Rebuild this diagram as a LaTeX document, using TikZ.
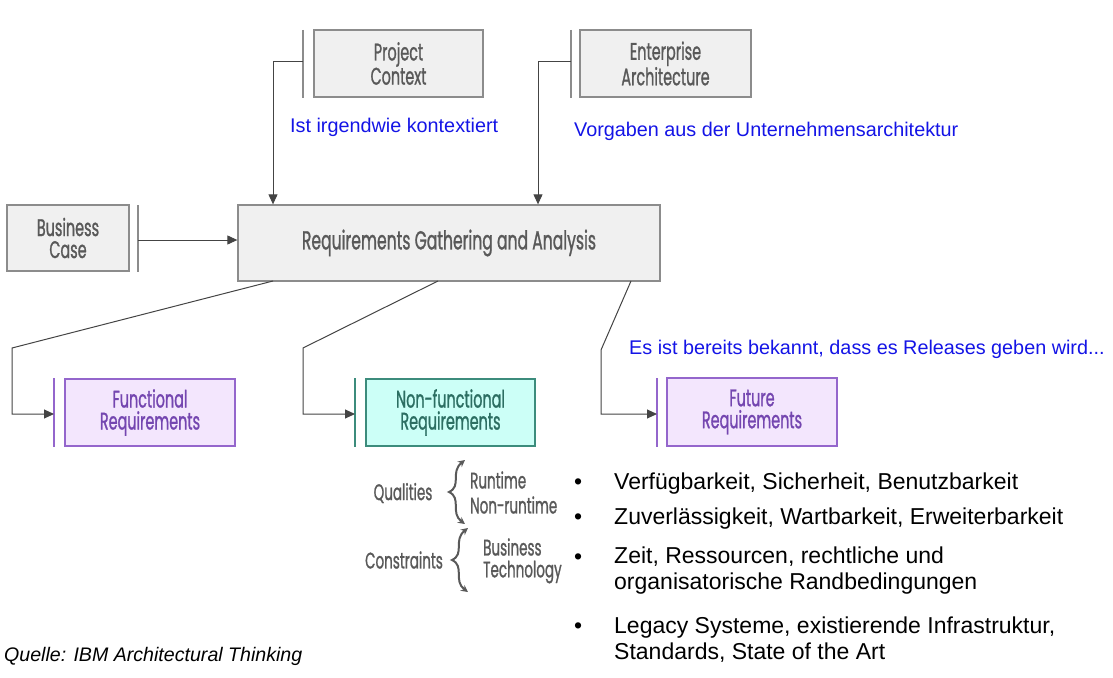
\documentclass[tikz,border=0pt]{standalone}
\usepackage{fontspec}
\setmainfont{Liberation Sans}
\newfontfamily\condfont[FakeStretch=0.6,FakeBold=1]{Poppins}
\usetikzlibrary{arrows.meta}
\definecolor{boxgray}{HTML}{F0F0F0}
\definecolor{edgegray}{HTML}{8C8C8C}
\definecolor{txtgray}{HTML}{595959}
\definecolor{linegray}{HTML}{444444}
\definecolor{purfill}{HTML}{F3E6FD}
\definecolor{puredge}{HTML}{9466CC}
\definecolor{purtxt}{HTML}{7446B0}
\definecolor{tealfill}{HTML}{CCFFF7}
\definecolor{tealedge}{HTML}{3C8C7C}
\definecolor{tealtxt}{HTML}{2C6E62}
\definecolor{bluetxt}{HTML}{1414E6}
\tikzset{
  x=1pt, y=-1pt,
  gbox/.style={draw=edgegray, fill=boxgray, line width=1.3pt, inner sep=0pt, align=center,
    text=txtgray, font=\condfont\fontsize{24}{22}\selectfont},
  pbox/.style={gbox, draw=puredge, fill=purfill, text=purtxt},
  tbox/.style={gbox, draw=tealedge, fill=tealfill, text=tealtxt},
  gbar/.style={draw=edgegray, line width=1.8pt},
  pbar/.style={draw=puredge, line width=1.5pt},
  tbar/.style={draw=tealedge, line width=1.5pt},
  conn/.style={draw=linegray, line width=1pt},
  arr/.style={conn, -{Triangle[length=10pt,width=9pt]}},
  blue/.style={text=bluetxt, font=\fontsize{19.8}{22}\selectfont, inner sep=0pt},
  glabel/.style={text=txtgray, font=\condfont\fontsize{22.5}{22}\selectfont, inner sep=0pt},
  bul/.style={font=\fontsize{23}{26}\selectfont, inner sep=0pt, anchor=west, align=left},
  curl/.style={draw=txtgray, line width=2pt, {Stealth[length=7pt,width=7pt]}-{Stealth[length=7pt,width=7pt]}},
}
\begin{document}
\begin{tikzpicture}
\useasboundingbox (0,0) rectangle (1113,677);
% top boxes
\node[gbox, minimum width=169pt, minimum height=67pt] (pc) at (398.5,63.5) {Project\\Context};
\node[gbox, minimum width=171pt, minimum height=67pt] (ea) at (665.5,63.5) {Enterprise\\Architecture};
\node[gbox, minimum width=122pt, minimum height=66pt] (bc) at (68,238) {Business\\Case};
\node[gbox, minimum width=422pt, minimum height=76pt, font=\condfont\fontsize{26}{25}\selectfont] (main) at (449,243) {Requirements Gathering and Analysis};
% bars
\draw[gbar] (303,30) -- (303,98);
\draw[gbar] (571,30) -- (571,98);
\draw[gbar] (138,205) -- (138,272);
\coordinate (pcb) at (303,62);
\coordinate (pct) at (273,62);
\coordinate (eab) at (571,62);
\coordinate (eat) at (538,62);
\coordinate (bcb) at (138,240);
\draw[arr] (pcb) -- (pct) -- (pct |- main.north);
\draw[arr] (eab) -- (eat) -- (eat |- main.north);
\draw[arr] (bcb) -- (bcb -| main.west);
% labels
\node[blue, anchor=west] (l1) at (290,127) {Ist irgendwie kontextiert};
\node[blue, anchor=west] (l2) at (574,131) {Vorgaben aus der Unternehmensarchitektur};
\node[blue, anchor=west] (l3) at (629,349) {Es ist bereits bekannt, dass es Releases geben wird...};
% requirement boxes
\node[pbox, minimum width=170pt, minimum height=67pt] (fr) at (150,412.5) {Functional\\Requirements};
\node[tbox, minimum width=169pt, minimum height=67pt] (nfr) at (450.5,412.5) {Non-functional\\Requirements};
\node[pbox, minimum width=170pt, minimum height=68pt] (fut) at (752,412) {Future\\Requirements};
\draw[pbar] (54,378) -- (54,447);
\draw[tbar] (355,378) -- (355,447);
\draw[pbar] (657,378) -- (657,447);
\coordinate (s1) at (273,281); \coordinate (k1) at (12,348); \coordinate (e1) at (54,414); \coordinate (d1) at (12,414);
\coordinate (s2) at (438,281); \coordinate (k2) at (303,348); \coordinate (e2) at (355,414); \coordinate (d2) at (303,414);
\coordinate (s3) at (631,281); \coordinate (k3) at (601,350); \coordinate (e3) at (657,414); \coordinate (d3) at (601,414);
\draw[arr] (s1) -- (k1) -- (d1) -- (e1);
\draw[arr] (s2) -- (k2) -- (d2) -- (e2);
\draw[arr] (s3) -- (k3) -- (d3) -- (e3);
% qualities / constraints
\node[glabel] (qual) at (403,493) {Qualities};
\node[glabel, anchor=west] (rt) at (470,480) {Runtime};
\node[glabel, anchor=west] (nrt) at (470,505) {Non-runtime};
\node[glabel] (cons) at (404,560) {Constraints};
\node[glabel, anchor=west] (bus) at (483,547) {Business};
\node[glabel, anchor=west] (tech) at (483,572) {Technology};
\draw[curl] (465,524) .. controls (450,513) and (462,498) .. (449,492) .. controls (462,486) and (450,472) .. (465,460);
\draw[curl] (468,592) .. controls (453,581) and (465,566) .. (452,560) .. controls (465,554) and (453,540) .. (468,528);
% bullets
\node[bul] (b1d) at (574,484) {•};
\node[bul] (b1) at (614,484) {Verfügbarkeit, Sicherheit, Benutzbarkeit};
\node[bul] (b2d) at (574,519) {•};
\node[bul] (b2) at (614,519) {Zuverlässigkeit, Wartbarkeit, Erweiterbarkeit};
\node[bul] (b3d) at (574,559) {•};
\node[bul] (b3) at (614,571) {Zeit, Ressourcen, rechtliche und\\organisatorische Randbedingungen};
\node[bul] (b4d) at (574,628) {•};
\node[bul] (b4) at (614,640) {Legacy Systeme, existierende Infrastruktur,\\Standards, State of the Art};
\node[anchor=west, inner sep=0pt, font=\itshape\fontsize{19.6}{22}\selectfont] (src) at (4,656) {Quelle: IBM Architectural Thinking};
\end{tikzpicture}
\end{document}
